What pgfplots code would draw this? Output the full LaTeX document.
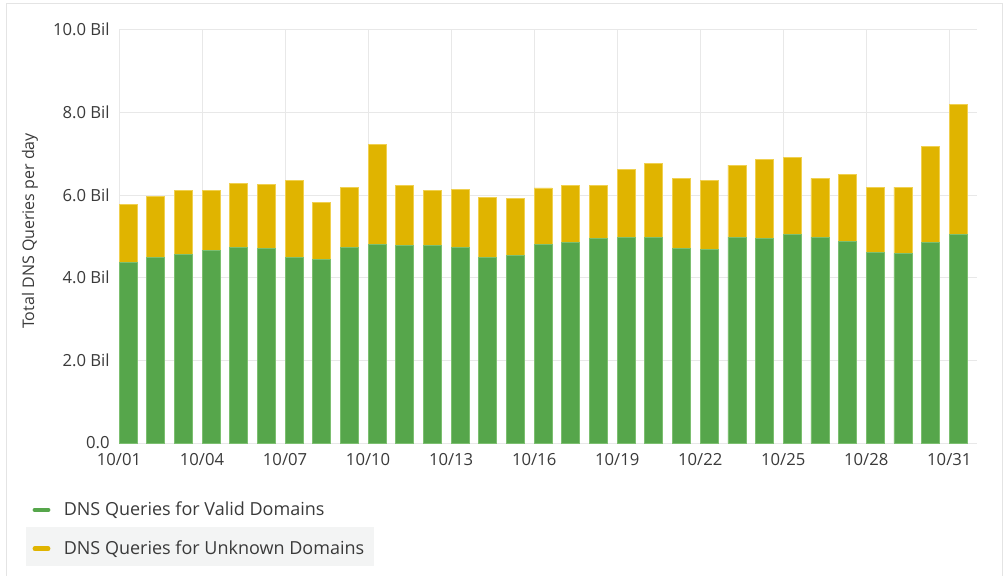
\documentclass[border=0pt]{standalone}
\usepackage{pgfplots}
\pgfplotsset{compat=1.18}
\usepackage{pgfplotstable}
\usepackage{fontspec}
\setmainfont{Open Sans}
\definecolor{vgreen}{HTML}{56A64B}
\definecolor{vgreenedge}{HTML}{7CBF70}
\definecolor{uyellow}{HTML}{E0B400}
\definecolor{uyellowedge}{HTML}{F0D050}
\definecolor{gridc}{HTML}{E8E8E8}
\definecolor{txt}{HTML}{3A3A3A}
\definecolor{legbg}{HTML}{F3F4F4}
\definecolor{panel}{HTML}{E4E4E4}

\pgfplotstableread{
day valid unknown
0  4.37 1.41
1  4.49 1.48
2  4.56 1.56
3  4.65 1.47
4  4.74 1.53
5  4.71 1.54
6  4.50 1.86
7  4.44 1.38
8  4.74 1.45
9  4.81 2.41
10 4.77 1.47
11 4.78 1.32
12 4.74 1.39
13 4.50 1.45
14 4.53 1.39
15 4.81 1.36
16 4.85 1.38
17 4.94 1.29
18 4.98 1.63
19 4.98 1.78
20 4.71 1.69
21 4.69 1.67
22 4.98 1.74
23 4.95 1.90
24 5.05 1.85
25 4.98 1.42
26 4.88 1.61
27 4.60 1.59
28 4.58 1.61
29 4.86 2.31
30 5.05 3.14
}\dnsdata

\begin{document}
\begin{tikzpicture}
\path[use as bounding box] (0,0) rectangle (752.25pt,-431.25pt);
\draw[panel, line width=0.75pt] (4.5pt,-440pt) -- (4.5pt,-2.25pt) -- (751.5pt,-2.25pt) -- (751.5pt,-440pt);
\fill[legbg] (19.5pt,-395.25pt) rectangle (280.5pt,-424.5pt);
\begin{axis}[
  at={(89.25pt,-332.25pt)}, anchor=south west,
  scale only axis, width=643.5pt, height=310pt,
  xmin=0, xmax=31, ymin=0, ymax=10,
  axis line style={draw=none},
  grid=major, major grid style={gridc, line width=0.75pt},
  major tick length=0pt,
  xtick={0,3,...,30},
  xticklabels={10/01,10/04,10/07,10/10,10/13,10/16,10/19,10/22,10/25,10/28,10/31},
  ytick={0,2,4,6,8,10},
  yticklabels={0.0,2.0 Bil,4.0 Bil,6.0 Bil,8.0 Bil,10.0 Bil},
  tick label style={font=\fontsize{12.5}{14}\selectfont, text=txt},
  xticklabel style={yshift=-4.5pt},
  yticklabel style={xshift=-3.5pt},
  ylabel={Total DNS Queries per day},
  ylabel style={at={(axis description cs:-0.1037,0.513)}, anchor=center, font=\fontsize{12}{14}\selectfont, text=txt},
  ybar stacked, bar width=0.65,
  legend style={at={(axis description cs:-0.10105,-0.2087)}, anchor=west,
    draw=none, fill=none, inner sep=0pt, row sep=17.25pt,
    nodes={inner sep=0pt, anchor=west},
    font=\fontsize{13.5}{16}\selectfont, text=txt,
    /tikz/every odd column/.append style={column sep=10pt}},
  legend cell align=left,
]
\addplot[fill=vgreen, draw=vgreenedge, line width=0.6pt,
  legend image code/.code={\draw[vgreen, line width=3.4pt, line cap=round] (0pt,0pt) -- (10pt,0pt);}]
  table[x expr=\thisrow{day}+0.325, y=valid]{\dnsdata};
\addplot[fill=uyellow, draw=uyellowedge, line width=0.6pt,
  legend image code/.code={\draw[uyellow, line width=3.4pt, line cap=round] (0pt,0pt) -- (10pt,0pt);}]
  table[x expr=\thisrow{day}+0.325, y=unknown]{\dnsdata};
\legend{DNS Queries for Valid Domains, DNS Queries for Unknown Domains}
\end{axis}
\end{tikzpicture}
\end{document}
